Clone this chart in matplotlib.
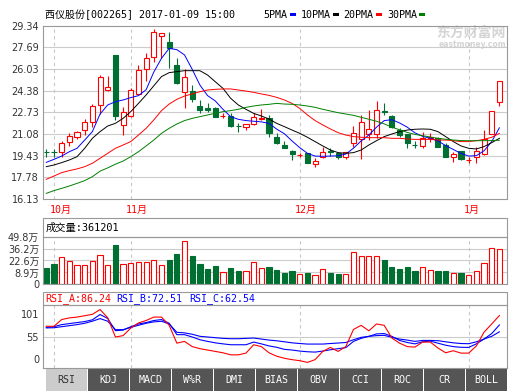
import numpy as np
import matplotlib
matplotlib.use('Agg')
import matplotlib.pyplot as plt
from matplotlib.patches import Rectangle

# ---- data (price in yuan, volume in 10k) ----
opens  = [19.70, 19.70, 19.68, 20.45, 20.88, 21.38, 22.02, 23.29, 24.46, 27.10,
          21.74, 22.48, 24.13, 26.03, 26.92, 28.54, 28.06, 26.33, 24.25, 24.35,
          23.21, 23.09, 23.03, 22.43, 22.45, 21.70, 21.64, 21.82, 22.25, 22.32,
          20.88, 20.22, 19.79, 19.48, 19.61, 18.80, 19.30, 19.76, 19.66, 19.30,
          20.42, 20.67, 21.08, 21.05, 22.80, 22.45, 21.38, 21.08, 20.25, 20.17,
          20.80, 20.75, 20.24, 19.35, 19.79, 19.10, 19.30, 19.55, 21.08, 23.54]
highs  = [19.91, 19.91, 20.57, 21.18, 21.31, 22.20, 23.36, 25.57, 25.50, 27.10,
          23.11, 24.56, 26.33, 27.22, 29.07, 28.80, 28.82, 26.84, 26.00, 24.81,
          23.67, 23.41, 23.11, 22.65, 22.65, 21.94, 21.82, 22.65, 22.96, 22.53,
          21.18, 20.57, 19.86, 19.66, 19.61, 19.23, 20.06, 20.04, 19.74, 19.74,
          21.69, 22.53, 22.91, 23.59, 23.41, 22.50, 21.51, 21.10, 20.57, 21.26,
          21.18, 20.88, 20.37, 19.73, 19.81, 19.35, 20.12, 21.38, 22.83, 25.12]
lows   = [19.30, 19.35, 19.35, 20.17, 20.67, 21.03, 21.64, 22.60, 24.38, 22.15,
          21.00, 22.40, 24.05, 25.14, 26.59, 26.90, 26.08, 24.90, 23.03, 23.54,
          22.70, 22.78, 22.35, 22.32, 21.64, 21.26, 21.38, 21.76, 22.15, 20.88,
          20.32, 19.99, 19.10, 19.35, 18.90, 18.59, 19.23, 19.40, 19.18, 19.15,
          20.12, 19.15, 20.62, 20.75, 22.53, 21.55, 20.88, 20.04, 19.99, 20.04,
          20.50, 20.07, 19.35, 18.92, 19.10, 18.85, 18.85, 19.45, 21.08, 23.21]
closes = [19.68, 19.68, 20.37, 20.93, 21.21, 21.97, 23.21, 25.39, 24.63, 22.48,
          22.73, 24.40, 25.93, 26.84, 28.82, 28.80, 27.65, 24.94, 25.45, 23.72,
          22.91, 22.91, 22.40, 22.45, 21.71, 21.68, 21.82, 22.40, 22.28, 21.13,
          20.37, 19.99, 19.53, 19.50, 18.90, 19.02, 19.74, 19.74, 19.30, 19.68,
          21.13, 21.97, 21.46, 22.91, 22.78, 21.59, 21.00, 20.42, 20.24, 20.75,
          20.82, 20.12, 19.35, 19.53, 19.15, 19.12, 19.79, 20.70, 22.83, 25.12]
volumes = [14.4, 18.2, 26.9, 22.4, 17.8, 17.0, 21.6, 28.5, 17.0, 40.3,
           18.2, 19.3, 20.5, 20.5, 22.7, 17.0, 23.1, 30.0, 44.5, 27.3,
           18.6, 12.8, 16.3, 9.0, 14.0, 10.5, 10.2, 20.5, 13.6, 15.1,
           11.3, 8.3, 10.5, 6.7, 8.3, 5.6, 12.5, 8.3, 7.1, 7.1,
           31.9, 27.3, 27.3, 27.3, 23.1, 15.1, 12.8, 15.1, 10.5, 14.7,
           11.3, 10.5, 10.5, 8.3, 8.3, 5.6, 10.2, 19.3, 36.8, 36.1]

ma5  = [18.92, 19.15, 19.40, 19.73, 19.99, 20.62, 21.26, 22.60, 23.29, 23.54,
        23.67, 23.85, 24.00, 24.45, 25.80, 26.84, 27.60, 27.50, 27.10, 26.00,
        24.81, 24.00, 23.60, 22.96, 22.40, 22.20, 22.10, 22.05, 22.00, 21.89,
        21.45, 21.10, 20.55, 20.04, 19.61, 19.40, 19.38, 19.40, 19.42, 19.55,
        20.00, 20.55, 21.00, 21.60, 22.10, 22.17, 21.92, 21.60, 21.17, 20.90,
        20.75, 20.55, 20.20, 19.90, 19.60, 19.40, 19.43, 19.80, 20.50, 21.55]
ma10 = [18.59, 18.72, 18.90, 19.10, 19.35, 19.99, 20.75, 21.26, 21.69, 21.89,
        22.27, 22.78, 23.41, 24.05, 24.75, 25.45, 25.75, 25.83, 25.90, 25.90,
        25.90, 25.57, 25.06, 24.56, 23.80, 23.29, 22.96, 22.65, 22.45, 22.22,
        21.89, 21.64, 21.38, 21.13, 20.83, 20.50, 20.17, 19.86, 19.66, 19.61,
        19.66, 19.86, 20.24, 20.57, 20.88, 21.08, 21.26, 21.38, 21.44, 21.46,
        21.44, 21.26, 20.88, 20.50, 20.17, 19.99, 19.94, 20.12, 20.42, 20.75]
ma20 = [17.63, 17.88, 18.14, 18.29, 18.42, 18.59, 18.85, 19.23, 19.61, 19.99,
        20.24, 20.50, 21.00, 21.51, 22.15, 22.86, 23.36, 23.72, 23.97, 24.13,
        24.30, 24.43, 24.48, 24.51, 24.51, 24.43, 24.35, 24.25, 24.13, 24.02,
        23.87, 23.67, 23.41, 23.03, 22.53, 22.10, 21.77, 21.46, 21.18, 21.00,
        20.88, 20.83, 20.80, 20.80, 20.80, 20.75, 20.75, 20.70, 20.67, 20.67,
        20.67, 20.62, 20.62, 20.57, 20.50, 20.50, 20.57, 20.67, 20.83, 21.13]
ma30 = [16.56, 16.77, 16.94, 17.12, 17.32, 17.53, 17.83, 18.25, 18.50, 18.78,
        19.02, 19.35, 19.73, 20.17, 20.62, 21.13, 21.51, 21.84, 22.10, 22.27,
        22.40, 22.53, 22.65, 22.78, 22.86, 22.96, 23.11, 23.21, 23.29, 23.34,
        23.41, 23.36, 23.34, 23.29, 23.21, 23.11, 22.96, 22.83, 22.70, 22.60,
        22.50, 22.35, 22.20, 22.05, 21.85, 21.60, 21.40, 21.20, 21.05, 20.95,
        20.85, 20.75, 20.68, 20.62, 20.58, 20.57, 20.57, 20.57, 20.58, 20.60]

rsi_a = [70.6, 70.6, 80.4, 82.8, 84.0, 86.0, 88.0, 95.0, 83.0, 55.0,
         57.0, 68.0, 75.5, 79.0, 84.0, 84.0, 72.0, 46.0, 48.6, 41.0,
         38.0, 36.0, 34.0, 32.0, 29.0, 29.0, 31.5, 43.7, 41.0, 32.0,
         27.0, 24.0, 22.0, 20.5, 18.0, 22.0, 34.0, 39.8, 34.0, 41.0,
         66.0, 72.0, 64.0, 74.0, 72.0, 53.5, 46.0, 41.0, 40.3, 47.6,
         47.6, 39.0, 32.0, 35.0, 31.5, 31.5, 42.0, 62.0, 74.0, 86.24]
rsi_b = [69.1, 70.0, 73.0, 74.5, 76.0, 77.5, 80.0, 87.7, 82.0, 64.2,
         65.0, 70.0, 74.0, 76.0, 79.0, 80.4, 75.0, 58.4, 58.4, 55.0,
         51.0, 48.6, 46.5, 45.0, 43.7, 43.7, 43.7, 47.6, 45.0, 42.0,
         40.0, 37.0, 36.0, 34.5, 33.5, 33.0, 34.5, 36.4, 38.0, 39.5,
         48.6, 53.0, 56.0, 59.5, 60.0, 55.9, 50.0, 47.0, 45.0, 48.0,
         49.0, 46.0, 43.0, 41.0, 40.0, 39.8, 45.0, 52.0, 60.0, 72.51]
rsi_c = [68.2, 68.5, 70.0, 71.5, 73.0, 75.0, 78.0, 81.8, 78.0, 65.7,
         65.7, 69.0, 72.0, 75.0, 77.0, 77.9, 74.0, 61.8, 61.0, 59.0,
         56.0, 55.0, 54.0, 53.0, 52.5, 52.5, 53.0, 53.5, 52.0, 50.5,
         49.5, 48.0, 46.5, 45.5, 44.7, 44.7, 44.7, 45.5, 46.2, 47.0,
         51.0, 54.5, 55.9, 57.0, 57.4, 54.5, 52.0, 50.5, 48.6, 50.0,
         50.0, 49.6, 48.0, 46.5, 45.5, 45.2, 48.0, 52.0, 56.0, 62.54]

price_ticks = [16.13, 17.78, 19.43, 21.08, 22.73, 24.38, 26.03, 27.69, 29.34]
vol_ticks   = [8.9, 22.6, 36.2, 49.8]
month_idx   = [1, 11, 33, 55]
month_lab   = ['10月', '11月', '12月', '1月']
tabs        = ['RSI', 'KDJ', 'MACD', 'W%R', 'DMI', 'BIAS', 'OBV', 'CCI', 'ROC', 'CR', 'BOLL']

# ---- styles ----
W, H = 509, 391
RED, GREEN, BLUE = '#ff0000', '#007032', '#0000ff'
BORDER, GRID = '#999999', '#cccccc'
MONO = ['DejaVu Sans Mono', 'Noto Sans CJK SC']
SANS = ['DejaVu Sans', 'Noto Sans CJK SC']
VOL_FLOOR = -4.7
L, R = 43.3, 507

fig = plt.figure(figsize=(W / 100, H / 100), dpi=100)
fig.patch.set_facecolor('white')


def px_rect(x0, y0, x1, y1):
    return [x0 / W, 1 - y1 / H, (x1 - x0) / W, (y1 - y0) / H]


ov = fig.add_axes([0, 0, 1, 1])
ov.set_xlim(0, W)
ov.set_ylim(H, 0)
ov.axis('off')

axp = fig.add_axes(px_rect(L, 25.5, R, 199))
axv = fig.add_axes(px_rect(L, 236.7, R, 284.3))
axr = fig.add_axes(px_rect(L, 305, R, 368.3))

idx = np.arange(len(closes))
up = np.array(closes) >= np.array(opens)
cols = [RED if u else GREEN for u in up]

for ax in (axp, axv, axr):
    ax.set_facecolor('none')
    ax.set_xlim(-0.39, 59.99)
    ax.set_xticks([])
    for s in ax.spines.values():
        s.set_color(BORDER)
        s.set_linewidth(0.8)
    ax.tick_params(axis='y', length=0, pad=3, labelsize=7, labelcolor='#333333')
    for m in month_idx:
        ax.axvline(m, color='#c8c8c8', lw=0.8, ls=(0, (3, 3)), zorder=0.5)
    for lab in ax.get_yticklabels():
        lab.set_family(SANS)

# ---- price panel ----
axp.set_ylim(price_ticks[0], price_ticks[-1])
axp.set_yticks(price_ticks)
axp.set_yticklabels(['%.2f' % v for v in price_ticks])
for v in price_ticks[1:-1]:
    axp.axhline(v, color=GRID, lw=0.8, zorder=0.4)

for i in idx:
    o, c = opens[i], closes[i]
    axp.vlines(i, lows[i], highs[i], color=cols[i], lw=0.8, zorder=2)
    body = Rectangle((i - 0.33, min(o, c)), 0.66, abs(c - o),
                     facecolor='white' if up[i] else cols[i],
                     edgecolor=cols[i], lw=0.8, zorder=2.5)
    axp.add_patch(body)

axp.plot(idx, ma5, color=BLUE, lw=0.7, zorder=3)
axp.plot(idx, ma10, color='black', lw=0.7, zorder=3)
axp.plot(idx, ma20, color=RED, lw=0.7, zorder=3)
axp.plot(idx, ma30, color='#008000', lw=0.7, zorder=3)

# ---- volume panel ----
axv.set_ylim(VOL_FLOOR, vol_ticks[-1])
axv.set_yticks([VOL_FLOOR] + vol_ticks)
axv.set_yticklabels(['0'] + ['%.1f万' % v for v in vol_ticks])
for lab in axv.get_yticklabels():
    lab.set_family(SANS)
for v in vol_ticks[:-1]:
    axv.axhline(v, color=GRID, lw=0.8, zorder=0.4)
axv.bar(idx, np.array(volumes) - VOL_FLOOR, bottom=VOL_FLOOR, width=0.68,
        color=['white' if u else GREEN for u in up], edgecolor=cols, lw=0.8, zorder=2)

# ---- RSI panel ----
axr.set_ylim(9.4, 101.6)
axr.set_yticks([23.2, 55, 89.2])
axr.set_yticklabels(['0', '55', '101'])
axr.axhline(55, color=GRID, lw=0.8, zorder=0.4)
axr.plot(idx, rsi_c, color=BLUE, lw=0.8, zorder=3)
axr.plot(idx, rsi_b, color=BLUE, lw=0.8, zorder=3)
axr.plot(idx, rsi_a, color=RED, lw=0.8, zorder=3)

# ---- header texts ----
ov.text(45, 14.5, '西仪股份[002265] 2017-01-09 15:00', family=MONO, fontsize=7.2,
        va='center', ha='left', color='black')
for name, xt, xm, mc in [('5PMA', 263, 290, BLUE), ('10PMA', 301, 333, 'black'),
                         ('20PMA', 343, 376, RED), ('30PMA', 387, 419, '#008000')]:
    ov.text(xt, 14.5, name, family=MONO, fontsize=7.2, va='center', ha='left', color='black')
    ov.add_patch(Rectangle((xm, 13), 6, 3, facecolor=mc, edgecolor='none'))

# watermark
ov.text(506, 33, '东方财富网', family=['Noto Sans CJK SC'], fontsize=10, fontweight='bold',
        color='#d4d4d4', ha='right', va='center')
ov.text(506, 44.5, 'eastmoney.com', family=['DejaVu Sans'], fontsize=5.5, fontweight='bold',
        color='#d4d4d4', ha='right', va='center')

# month labels
for m, lab in zip(month_idx, month_lab):
    xm = L + (m - (-0.39)) / (59.99 + 0.39) * (R - L)
    ov.text(xm - 4.5, 210, lab, family=MONO, fontsize=7.2, color=RED, ha='left', va='center')

# volume header box
ov.add_patch(Rectangle((L, 218.3), R - L, 236.7 - 218.3, fill=False, edgecolor=BORDER, lw=0.8))
ov.text(45.5, 227.8, '成交量:361201', family=MONO, fontsize=7.4, va='center', ha='left', color='black')

# RSI header box
ov.add_patch(Rectangle((L, 291.7), R - L, 305 - 291.7, fill=False, edgecolor=BORDER, lw=0.8))
for txt, xt, c in [('RSI_A:86.24', 45, RED), ('RSI_B:72.51', 116.5, BLUE), ('RSI_C:62.54', 189, BLUE)]:
    ov.text(xt, 298.6, txt, family=MONO, fontsize=7.2, va='center', ha='left', color=c)

# tabs
pitch = (507.7 - 46) / len(tabs)
for k, t in enumerate(tabs):
    x0 = 46 + k * pitch
    sel = (k == 0)
    ov.add_patch(Rectangle((x0, 368.3), pitch - 1, 391 - 368.3,
                           facecolor='#cccccc' if sel else '#555555', edgecolor='none'))
    ov.text(x0 + (pitch - 1) / 2, 380, t, family=MONO, fontsize=7.2, ha='center', va='center',
            color='#333333' if sel else 'white')

fig.savefig('out.png', dpi=100)
